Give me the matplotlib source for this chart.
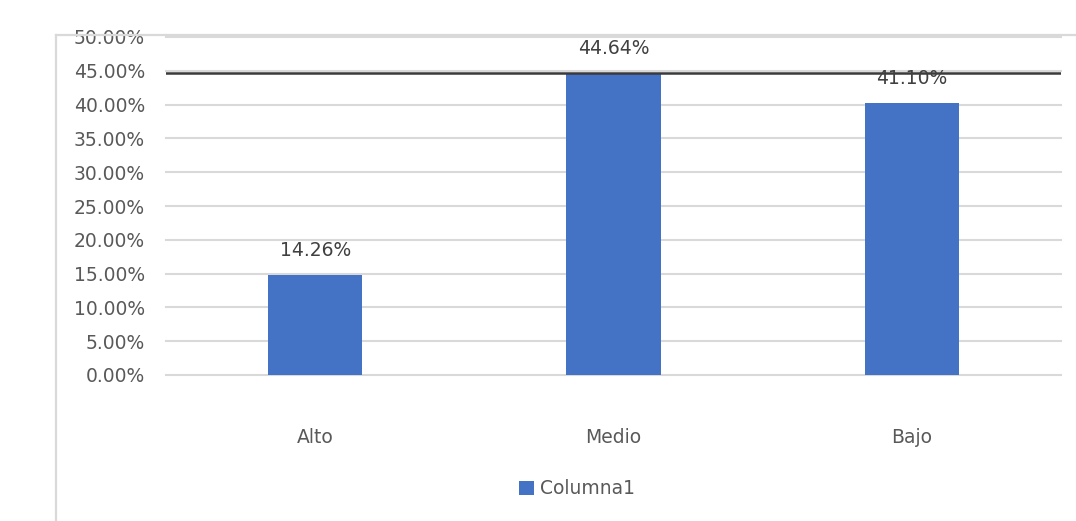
import matplotlib
matplotlib.use("Agg")
import matplotlib.pyplot as plt
from matplotlib.lines import Line2D
from matplotlib.ticker import FuncFormatter, MultipleLocator

categories = ["Alto", "Medio", "Bajo"]
bar_heights = [14.8, 44.6, 40.2]          # heights as drawn in the picture
labels = ["14.26%", "44.64%", "41.10%"]   # data labels as printed
reference_line = 44.64
series_name = "Columna1"

W, H = 1076, 521
fig = plt.figure(figsize=(W / 100, H / 100), dpi=100)
plt.rcParams['font.family'] = ['DejaVu Sans']

ax = fig.add_axes([166 / W, 1 - 375 / H, (1061 - 166) / W, (375 - 37) / H])
x = list(range(len(categories)))
bars = ax.bar(x, bar_heights, width=0.316, color="#4472C4", zorder=3, label=series_name)
ax.axhline(reference_line, color="#3a3a3a", lw=1.8, zorder=4)

for xi, v, lab in zip(x, bar_heights, labels):
    ax.annotate(lab, (xi, v), xytext=(0, 11), textcoords="offset points",
                ha="center", va="bottom", fontsize=13.5, color="#404040", zorder=5)

ax.set_xlim(-0.5, 2.5)
ax.set_ylim(0, 50)
ax.yaxis.set_major_locator(MultipleLocator(5))
ax.yaxis.set_major_formatter(FuncFormatter(lambda v, p: f"{v:.2f}%"))
ax.set_xticks(x)
ax.set_xticklabels(categories)
ax.tick_params(axis="y", length=0, pad=15, labelsize=13.5, labelcolor="#595959")
ax.tick_params(axis="x", length=0, pad=38, labelsize=13.5, labelcolor="#595959")
ax.grid(axis="y", color="#d9d9d9", lw=1.5, zorder=0)
for gl in ax.get_ygridlines():
    gl.set_clip_on(False)
for s in ax.spines.values():
    s.set_visible(False)

# chart-area frame (left and top edges visible)
fig.add_artist(Line2D([56 / W, 56 / W], [0, 1 - 35 / H], transform=fig.transFigure,
                      color="#d9d9d9", lw=1.6))
fig.add_artist(Line2D([56 / W, 1], [1 - 35 / H, 1 - 35 / H], transform=fig.transFigure,
                      color="#d9d9d9", lw=1.6))

leg = fig.legend(handles=[bars], labels=[series_name], loc="center",
                 bbox_to_anchor=(577 / W, 1 - 489 / H), frameon=False,
                 fontsize=13.5, handlelength=0.8, handleheight=0.8, handletextpad=0.3)
for t in leg.get_texts():
    t.set_color("#595959")

fig.savefig("out.png", dpi=100)
